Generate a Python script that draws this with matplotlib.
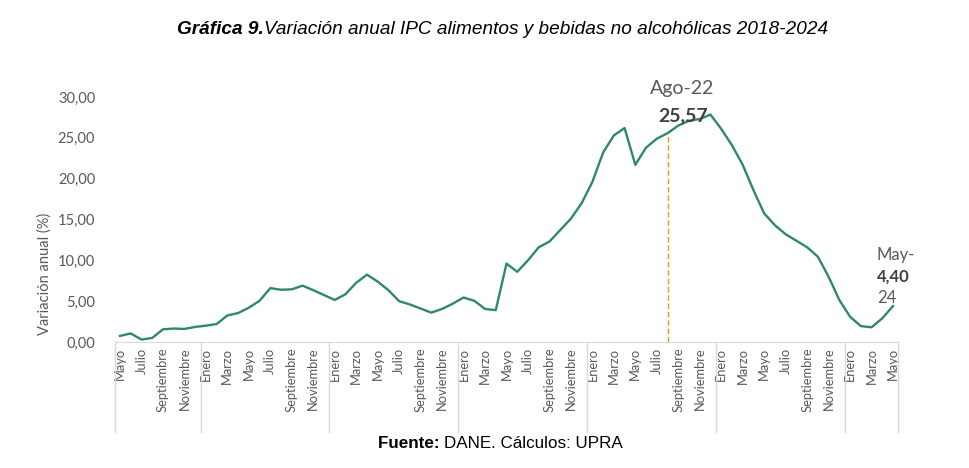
import matplotlib.pyplot as plt
import matplotlib.transforms as mtransforms

# Variación anual IPC alimentos y bebidas no alcohólicas, mayo 2018 - mayo 2024
valores = [
    0.75, 1.05, 0.30, 0.50, 1.55, 1.65, 1.60, 1.85,            # 2018 may-dic
    2.00, 2.20, 3.25, 3.55, 4.20, 5.05, 6.60, 6.40, 6.45, 6.90, 6.35, 5.75,   # 2019
    5.15, 5.85, 7.25, 8.25, 7.40, 6.35, 5.00, 4.60, 4.10, 3.60, 4.05, 4.70,   # 2020
    5.45, 5.05, 4.05, 3.90, 9.60, 8.60, 10.00, 11.60, 12.30, 13.70, 15.10, 17.00,  # 2021
    19.60, 23.20, 25.30, 26.20, 21.70, 23.80, 24.90, 25.57, 26.50, 27.10, 27.30, 27.85,  # 2022
    26.10, 24.10, 21.70, 18.60, 15.75, 14.30, 13.20, 12.40, 11.60, 10.45, 8.00, 5.15,  # 2023
    3.10, 1.95, 1.80, 2.90, 4.40,                               # 2024 ene-may
]
meses = ["Mayo", "Junio", "Julio", "Agosto", "Septiembre", "Octubre", "Noviembre", "Diciembre",
         "Enero", "Febrero", "Marzo", "Abril"]
etiquetas = [meses[i % 12] for i in range(len(valores))]
separadores_anio = [-0.5, 7.5, 19.5, 31.5, 43.5, 55.5, 67.5, 72.5]
idx_ago22 = 51
idx_may24 = 72

verde = "#2f8a64"
gris = "#595959"

fig = plt.figure(figsize=(9.69, 4.68), dpi=100)
ax = fig.add_axes([0.1183, 0.2692, 0.8088, 0.5235])

x = list(range(len(valores)))
ax.plot(x, valores, color=verde, linewidth=1.7)

ax.set_xlim(-0.5, len(valores) - 0.5)
ax.set_ylim(0, 30)
ax.set_yticks([0, 5, 10, 15, 20, 25, 30])
ax.set_yticklabels([f"{v:.2f}".replace(".", ",") for v in [0, 5, 10, 15, 20, 25, 30]],
                   fontfamily="Lato", fontsize=10.5, color=gris)
ax.set_xticks(x[::2])
ax.set_xticklabels(etiquetas[::2], rotation=90, fontfamily="Lato", fontsize=9.3,
                   color=gris, va="top", ha="center")
ax.tick_params(axis="both", length=0)
ax.tick_params(axis="y", pad=14)
ax.tick_params(axis="x", pad=4)

for s in ["top", "right", "left"]:
    ax.spines[s].set_visible(False)
ax.spines["bottom"].set_color("#d9d9d9")

trans = mtransforms.blended_transform_factory(ax.transData, ax.transAxes)
for sx in separadores_anio:
    ax.plot([sx, sx], [0, -0.367], transform=trans, color="#d9d9d9",
            linewidth=1, clip_on=False)

ax.set_ylabel("Variación anual (%)", fontfamily="Lato", fontsize=10.5, color=gris)
ax.yaxis.set_label_coords(-0.08, 0.28)

# anotaciones
ax.plot([idx_ago22, idx_ago22], [0, valores[idx_ago22]], color="#d4a017",
        linestyle=(0, (4, 2)), linewidth=1)
ax.text(idx_ago22 + 1.4, 31.0, "Ago-22", ha="center", va="center",
        fontfamily="Lato", fontsize=14, color=gris)
ax.text(idx_ago22 + 1.4, 27.7, "25,57", ha="center", va="center",
        fontfamily="Lato", fontsize=14, fontweight="bold", color="#404040")
ax.text(idx_may24 - 1.5, 10.6, "May-", ha="left", va="center",
        fontfamily="Lato", fontsize=12, color=gris, clip_on=False)
ax.text(idx_may24 - 1.5, 8.0, "4,40", ha="left", va="center",
        fontfamily="Lato", fontsize=12, fontweight="bold", color="#404040", clip_on=False)
ax.text(idx_may24 - 1.5, 5.4, "24", ha="left", va="center",
        fontfamily="Lato", fontsize=12, color=gris, clip_on=False)


def texto_dos_partes(parte_b, parte_n, x0, x1, y, size, italic):
    estilo = "italic" if italic else "normal"
    a = fig.text(0, y, parte_b, fontfamily="Liberation Sans", fontsize=size,
                 fontweight="bold", fontstyle=estilo, ha="left", va="center")
    b = fig.text(0, y, parte_n, fontfamily="Liberation Sans", fontsize=size,
                 fontstyle=estilo, ha="left", va="center")
    fig.canvas.draw()
    wa = a.get_window_extent().width
    wb = b.get_window_extent().width
    escala = (x1 - x0) / (wa + wb)
    a.set_fontsize(size * escala)
    b.set_fontsize(size * escala)
    W = fig.bbox.width
    a.set_x(x0 / W)
    b.set_x((x0 + wa * escala) / W)


texto_dos_partes("Gráfica 9.", "Variación anual IPC alimentos y bebidas no alcohólicas 2018-2024",
                 177, 828, 1 - 30 / 468, 14, True)
texto_dos_partes("Fuente: ", "DANE. Cálculos: UPRA", 378, 623, 1 - 443 / 468, 13, False)

fig.savefig("out.png", dpi=100)
